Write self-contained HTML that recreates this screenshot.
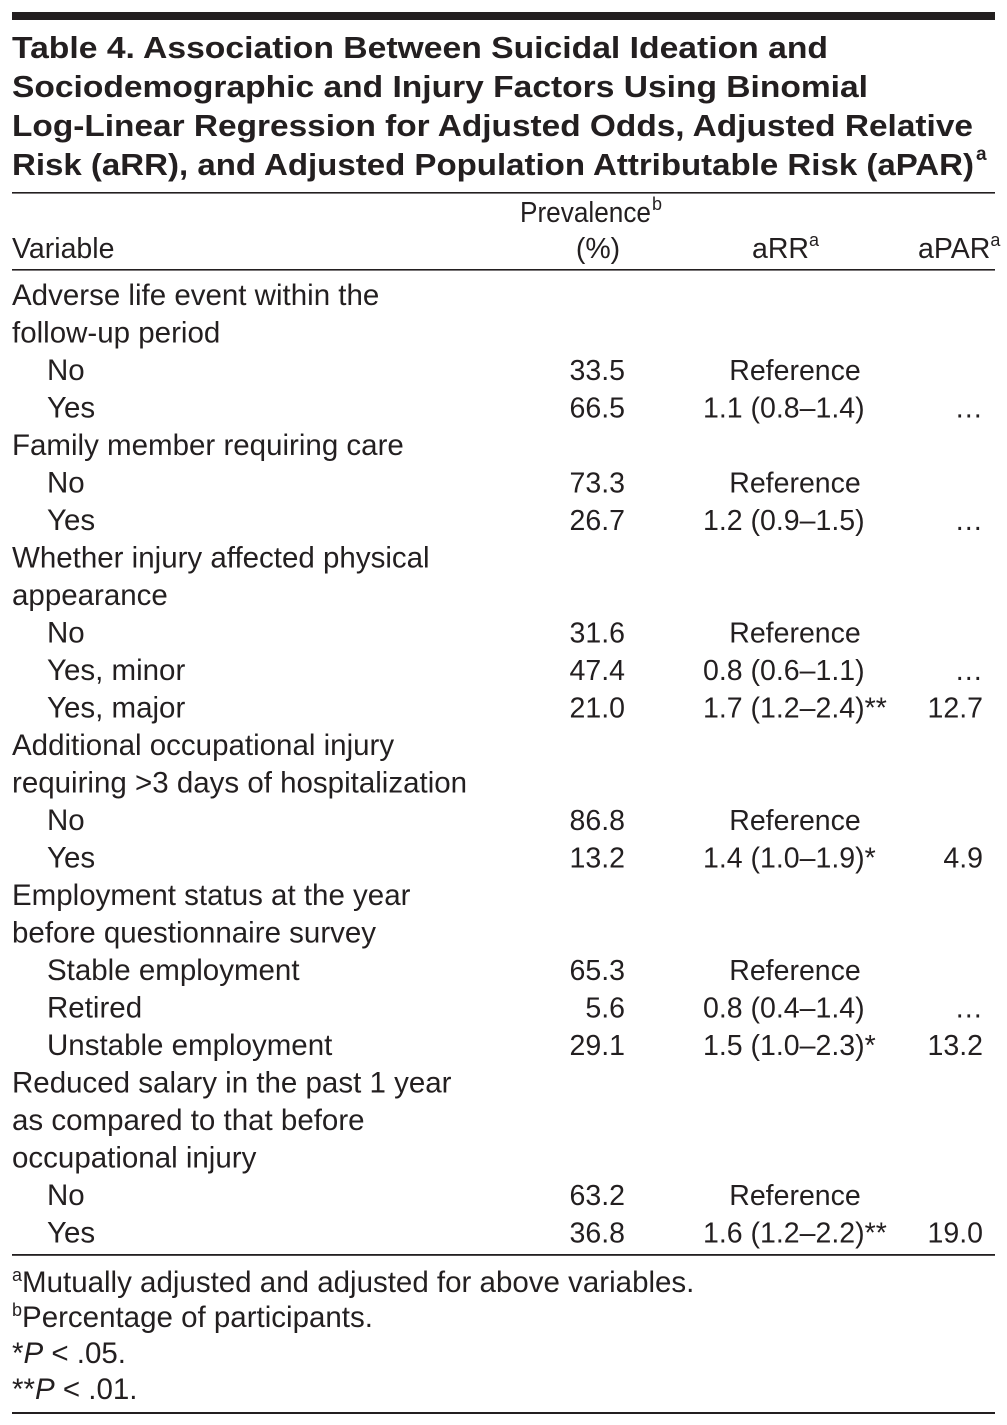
<!DOCTYPE html>
<html><head><meta charset="utf-8"><style>
html,body{margin:0;padding:0;background:#fff}
svg{display:block;font-family:"Liberation Sans",sans-serif;fill:#231f20}
</style></head><body>
<svg id="t" width="1007" height="1425" viewBox="0 0 1007 1425">
<rect x="12" y="12" width="983" height="8" fill="#231f20"/>
<g font-weight="bold" font-size="31">
<text x="12" y="58" textLength="816" lengthAdjust="spacingAndGlyphs">Table 4. Association Between Suicidal Ideation and</text>
<text x="12" y="97" textLength="856" lengthAdjust="spacingAndGlyphs">Sociodemographic and Injury Factors Using Binomial</text>
<text x="12" y="136" textLength="961" lengthAdjust="spacingAndGlyphs">Log-Linear Regression for Adjusted Odds, Adjusted Relative</text>
<text x="12" y="175" textLength="962" lengthAdjust="spacingAndGlyphs">Risk (aRR), and Adjusted Population Attributable Risk (aPAR)</text>
<text x="976" y="160" font-size="19">a</text>
</g>
<rect x="12" y="192" width="983" height="1.6" fill="#231f20"/>
<g font-size="28.5">
<text x="12" y="258">Variable</text>
<text x="520" y="222" textLength="131" lengthAdjust="spacingAndGlyphs">Prevalence</text>
<text x="652" y="210" font-size="18">b</text>
<text x="598" y="258" text-anchor="middle">(%)</text>
<text x="752" y="258">aRR<tspan font-size="18" dy="-12">a</tspan></text>
<text x="918" y="258">aPAR<tspan font-size="18" dy="-12">a</tspan></text>
</g>
<rect x="12" y="269" width="983" height="1.6" fill="#231f20"/>
<g id="body" font-size="28.5"></g>
<rect x="12" y="1254" width="983" height="1.8" fill="#231f20"/>
<g font-size="29.5">
<text x="12" y="1292"><tspan font-size="18" dy="-11">a</tspan><tspan dy="11">Mutually adjusted and adjusted for above variables.</tspan></text>
<text x="12" y="1327"><tspan font-size="18" dy="-11">b</tspan><tspan dy="11">Percentage of participants.</tspan></text>
<text x="12" y="1363">*<tspan font-style="italic">P</tspan> &lt; .05.</text>
<text x="12" y="1399">**<tspan font-style="italic">P</tspan> &lt; .01.</text>
</g>
<rect x="12" y="1412" width="983" height="2" fill="#231f20"/>
</svg>
<script>
const labels=["Adverse life event within the","follow-up period","No","Yes","Family member requiring care","No","Yes","Whether injury affected physical","appearance","No","Yes, minor","Yes, major","Additional occupational injury","requiring >3 days of hospitalization","No","Yes","Employment status at the year","before questionnaire survey","Stable employment","Retired","Unstable employment","Reduced salary in the past 1 year","as compared to that before","occupational injury","No","Yes"];
const indent=[0,0,1,1,0,1,1,0,0,1,1,1,0,0,1,1,0,0,1,1,1,0,0,0,1,1];
const prevalence=["","","33.5","66.5","","73.3","26.7","","","31.6","47.4","21.0","","","86.8","13.2","","","65.3","5.6","29.1","","","","63.2","36.8"];
const arr=["","","Reference","1.1 (0.8–1.4)","","Reference","1.2 (0.9–1.5)","","","Reference","0.8 (0.6–1.1)","1.7 (1.2–2.4)**","","","Reference","1.4 (1.0–1.9)*","","","Reference","0.8 (0.4–1.4)","1.5 (1.0–2.3)*","","","","Reference","1.6 (1.2–2.2)**"];
const apar=["","","","…","","","…","","","","…","12.7","","","","4.9","","","","…","13.2","","","","","19.0"];
const NS="http://www.w3.org/2000/svg";
const g=document.getElementById('body');
function txt(x,y,s,anchor){const t=document.createElementNS(NS,'text');t.setAttribute('x',x);t.setAttribute('y',y);if(anchor)t.setAttribute('text-anchor',anchor);t.textContent=s;g.appendChild(t);return t;}
labels.forEach((l,i)=>{
  const y=305+37.5*i;
  const a=txt(indent[i]?47:12,y,l);
  a.setAttribute('font-size','29.5');
  
  
  if(prevalence[i]){const p=txt(625,y,prevalence[i],'end');
    
    }
  if(arr[i]){const isRef=arr[i]==="Reference";const r=txt(isRef?795:703,y,arr[i],isRef?'middle':null);
    
    }
  if(apar[i]){const q=txt(983,y,apar[i],'end');
    
    }
});
</script>
</body></html>
